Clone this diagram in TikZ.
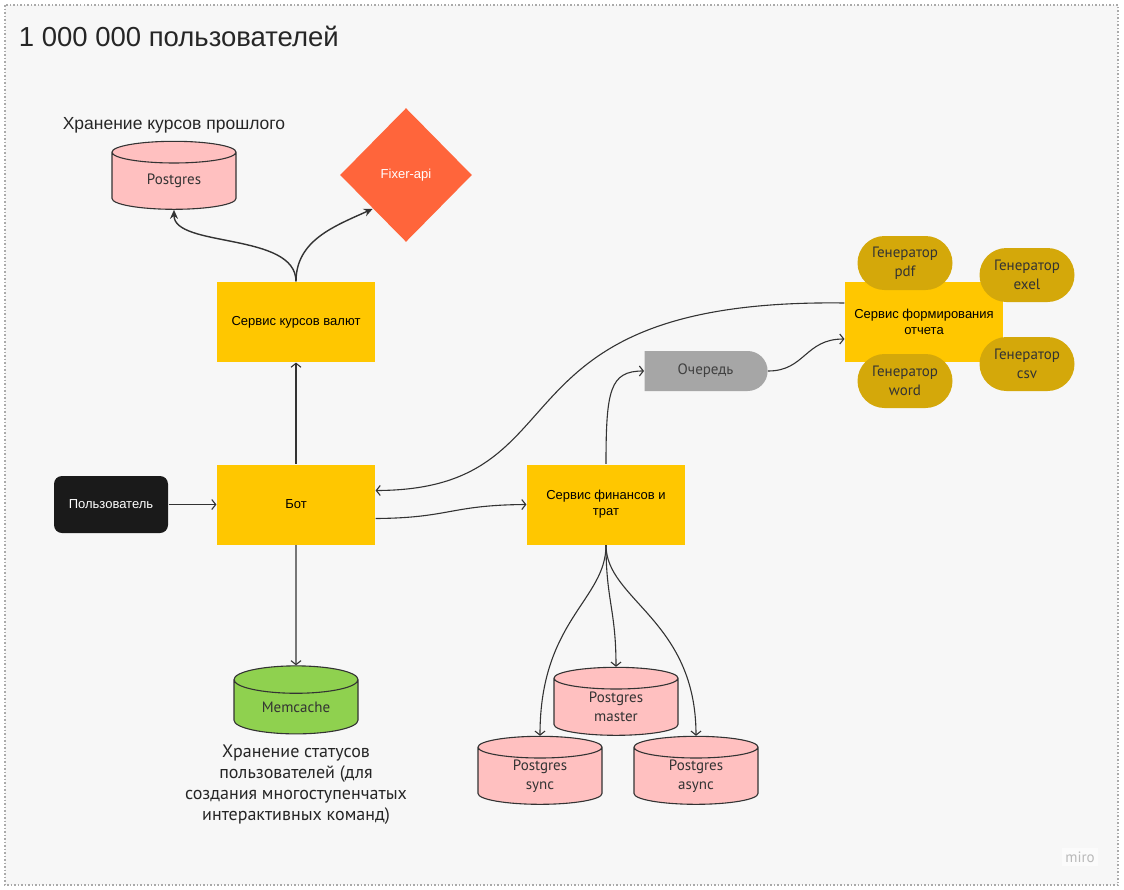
\documentclass[tikz,border=0pt]{standalone}
\usepackage{fontspec}
\setmainfont{Liberation Sans}
\newfontfamily\narrowfont{PT Sans}
\usetikzlibrary{
  arrows.meta,
  shapes.geometric,
  shapes.misc,
  positioning
}
\definecolor{board_bg}{RGB}{247, 247, 247}
\definecolor{frame_gray}{RGB}{170, 170, 170}
\definecolor{srv_yellow}{RGB}{255, 199, 0}
\definecolor{fixer_orange}{RGB}{255, 101, 59}
\definecolor{gen_gold}{RGB}{212, 168, 10}
\definecolor{db_pink}{RGB}{255, 192, 192}
\definecolor{cache_green}{RGB}{143, 209, 79}
\definecolor{queue_gray}{RGB}{166, 166, 166}
\definecolor{user_black}{RGB}{26, 26, 26}
\definecolor{line_dark}{RGB}{51, 51, 51}

\begin{document}
\begin{tikzpicture}[
    % Styles
    x=1pt, y=-1pt,
    font=\fontsize{13}{16}\selectfont,
    line width=1.1pt,
    % Blocks
    service/.style={
        rectangle,
        fill=srv_yellow,
        minimum width=158pt,
        minimum height=80pt,
        inner sep=0pt,
        align=center
    },
    store/.style={
        cylinder,
        shape border rotate=90,
        aspect=0.4,
        draw=line_dark,
        fill=db_pink,
        minimum width=124pt,
        minimum height=68pt,
        inner sep=0pt,
        align=center,
        text=line_dark,
        font=\narrowfont\fontsize{15}{19}\selectfont
    },
    generator/.style={
        rounded rectangle,
        fill=gen_gold,
        minimum width=95pt,
        minimum height=54pt,
        inner sep=0pt,
        align=center,
        text=black!80,
        font=\narrowfont\fontsize{15}{19}\selectfont
    },
    caption/.style={
        text=black!85,
        align=center,
        font=\fontsize{17.5}{21}\selectfont
    },
    flow/.style={
        draw=line_dark,
        -{Straight Barb[length=4pt,width=10pt]}
    },
    fetch/.style={
        draw=line_dark,
        line width=1.4pt,
        -{Stealth[length=9pt,width=8pt]}
    }
]

% --- BOARD ---
\path[use as bounding box] (0,0) rectangle (1124,889);
\draw[frame_gray, fill=board_bg, line width=1.5pt, dash pattern=on 1.5pt off 2pt] (5,5) rectangle (1118,885);
\node[anchor=west, text=black!85, font=\fontsize{27.5}{32}\selectfont] (title) at (15,36) {1 000 000 пользователей};

% --- LAYOUT ---

% 1. Rates branch (top left)
\node[caption] (pg_rates_note) at (174,125) {Хранение курсов прошлого};
\node[store] (pg_rates) at (174,181) {Postgres};
\node[diamond, fill=fixer_orange, minimum width=132pt, minimum height=134pt, inner sep=0pt, text=white] (fixer) at (406,175) {Fixer-api};
\node[service] (rates) at (296,322) {Сервис курсов валют};

% 2. Bot row
\node[rectangle, rounded corners=8pt, fill=user_black, text=white, minimum width=114pt, minimum height=57pt] (user) at (111,504.5) {Пользователь};
\node[service] (bot) at (296,504.5) {Бот};
\node[service] (finance) at (606,504.5) {Сервис финансов и\\трат};

% 3. Memcache (bottom left)
\node[store, fill=cache_green] (memcache) at (296,707) {Memcache};
\node[caption, font=\narrowfont\fontsize{18}{21}\selectfont] (memcache_note) at (296,785) {Хранение статусов\\пользователей (для\\создания многоступенчатых\\интерактивных команд)};

% 4. Postgres cluster (bottom center)
\node[store] (pg_master) at (616,707) {Postgres\\master};
\node[store] (pg_sync) at (540,776) {Postgres\\sync};
\node[store] (pg_async) at (696,776) {Postgres\\async};

% 5. Queue and reports (right)
\node[rounded rectangle, rounded rectangle left arc=none, fill=queue_gray, text=black!75, minimum width=123pt, minimum height=40pt, inner sep=0pt, font=\narrowfont\fontsize{15}{19}\selectfont] (queue) at (705.5,371) {Очередь};
\node[service] (report) at (924,322) {Сервис формирования\\отчета};
\node[generator] (gen_pdf) at (905,263) {Генератор\\pdf};
\node[generator] (gen_exel) at (1027,275) {Генератор\\exel};
\node[generator] (gen_word) at (905,381) {Генератор\\word};
\node[generator] (gen_csv) at (1027,364) {Генератор\\csv};

\node[text=gray!55, fill=white, fill opacity=0.5, text opacity=1, font=\narrowfont\fontsize{15}{18}\selectfont] (logo) at (1080,857) {miro};

% --- ARROWS ---

% User -> Bot -> Rates
\draw[flow] (user) -- (bot);
\draw[flow] (bot) -- (rates);

% Rates -> history and api
\draw[fetch] (rates.north) .. controls (296,232) and (174,248) .. (pg_rates.south);
\draw[fetch] (rates.north) .. controls (296,240) and (335,226) .. (fixer.south west);

% Bot -> Memcache
\draw[flow] (bot) -- (memcache);

% Bot <-> finance and reports
\draw[flow] ([yshift=-14pt]bot.east) .. controls (450,518) and (450,505) .. (finance.west);
\draw[flow] ([yshift=19pt]report.west) .. controls (480,298) and (590,490) .. ([yshift=14pt]bot.east);
\draw[flow] (finance.north) .. controls (606,390) and (610,371) .. (queue.west);
\draw[flow] (queue.east) .. controls (805,371) and (805,339) .. ([yshift=-17pt]report.west);

% Finance -> databases
\draw[flow] (finance.south) .. controls (606,600) and (616,610) .. (pg_master.north);
\draw[flow] (finance.south) .. controls (606,600) and (540,620) .. (pg_sync.north);
\draw[flow] (finance.south) .. controls (606,600) and (696,620) .. (pg_async.north);

\end{tikzpicture}
\end{document}
